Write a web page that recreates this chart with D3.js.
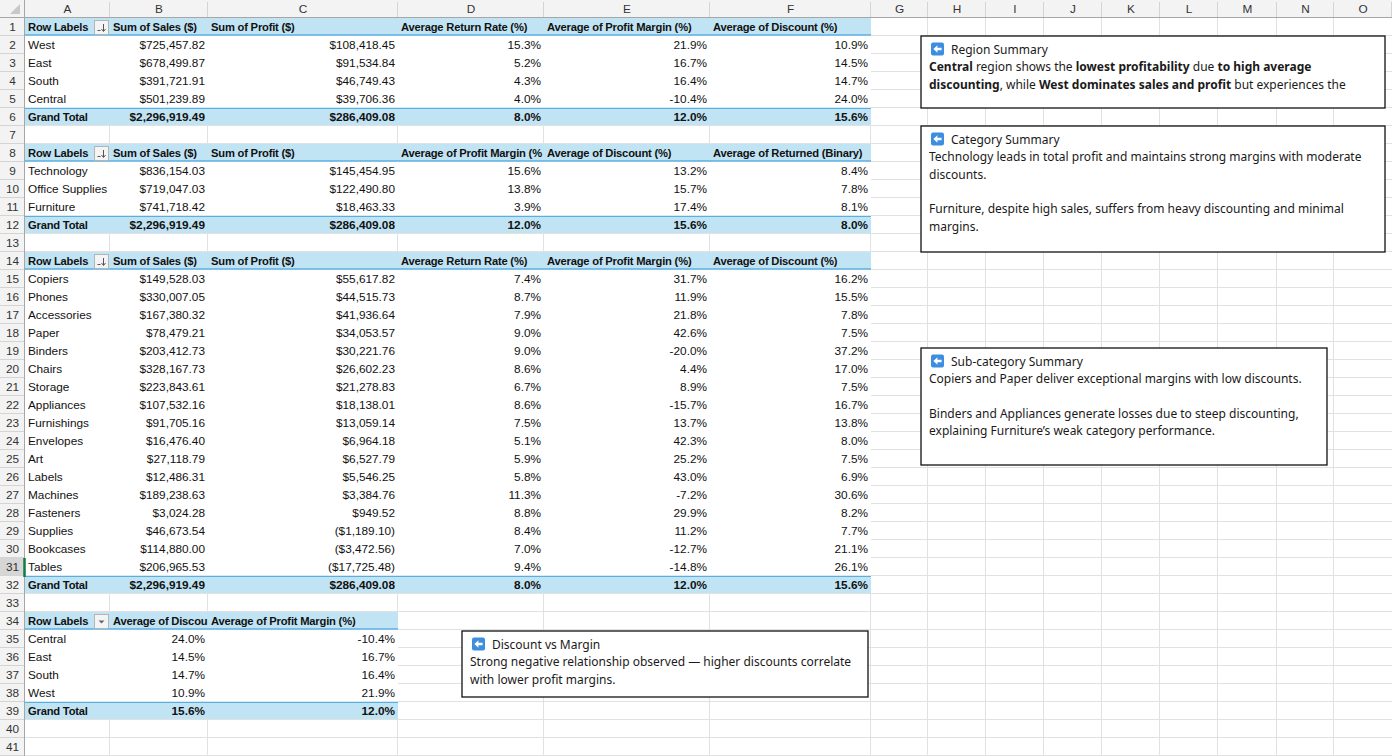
<!DOCTYPE html>
<html>
<head>
<meta charset="utf-8">
<script src="https://cdn.jsdelivr.net/npm/d3@7"></script>
<style>
  body { margin: 0; background: #fff; }
  svg { display: block; }
</style>
</head>
<body>
<svg width="1392" height="756"></svg>
<script>
// ---- pivot 1: by region
const regions = ['West', 'East', 'South', 'Central'];
const regionSales = [725457.82, 678499.87, 391721.91, 501239.89];
const regionProfit = [108418.45, 91534.84, 46749.43, 39706.36];
const regionReturnRate = [15.3, 5.2, 4.3, 4.0];
const regionMargin = [21.9, 16.7, 16.4, -10.4];
const regionDiscount = [10.9, 14.5, 14.7, 24.0];

// ---- pivot 2: by category
const categories = ['Technology', 'Office Supplies', 'Furniture'];
const catSales = [836154.03, 719047.03, 741718.42];
const catProfit = [145454.95, 122490.80, 18463.33];
const catMargin = [15.6, 13.8, 3.9];
const catDiscount = [13.2, 15.7, 17.4];
const catReturned = [8.4, 7.8, 8.1];

// ---- pivot 3: by sub-category
const subCategories = ['Copiers', 'Phones', 'Accessories', 'Paper', 'Binders', 'Chairs', 'Storage', 'Appliances',
  'Furnishings', 'Envelopes', 'Art', 'Labels', 'Machines', 'Fasteners', 'Supplies', 'Bookcases', 'Tables'];
const subSales = [149528.03, 330007.05, 167380.32, 78479.21, 203412.73, 328167.73, 223843.61, 107532.16,
  91705.16, 16476.40, 27118.79, 12486.31, 189238.63, 3024.28, 46673.54, 114880.00, 206965.53];
const subProfit = [55617.82, 44515.73, 41936.64, 34053.57, 30221.76, 26602.23, 21278.83, 18138.01,
  13059.14, 6964.18, 6527.79, 5546.25, 3384.76, 949.52, -1189.10, -3472.56, -17725.48];
const subReturnRate = [7.4, 8.7, 7.9, 9.0, 9.0, 8.6, 6.7, 8.6, 7.5, 5.1, 5.9, 5.8, 11.3, 8.8, 8.4, 7.0, 9.4];
const subMargin = [31.7, 11.9, 21.8, 42.6, -20.0, 4.4, 8.9, -15.7, 13.7, 42.3, 25.2, 43.0, -7.2, 29.9, 11.2, -12.7, -14.8];
const subDiscount = [16.2, 15.5, 7.8, 7.5, 37.2, 17.0, 7.5, 16.7, 13.8, 8.0, 7.5, 6.9, 30.6, 8.2, 7.7, 21.1, 26.1];

// ---- pivot 4: discount vs margin
const dmRegions = ['Central', 'East', 'South', 'West'];
const dmDiscount = [24.0, 14.5, 14.7, 10.9];
const dmMargin = [-10.4, 16.7, 16.4, 21.9];

// grand totals
const totalSales = 2296919.49;
const totalProfit = 286409.08;
const totalReturnRate = 8.0;
const totalMargin = 12.0;
const totalDiscount = 15.6;
const totalReturned = 8.0;

// note boxes text
const noteTitles = ['Region Summary', 'Category Summary', 'Sub-category Summary', 'Discount vs Margin'];
const noteLines = [
  [[['Central', 1], [' region shows the ', 0], ['lowest profitability', 1], [' due ', 0], ['to high average', 1]],
   [['discounting', 1], [', while ', 0], ['West dominates sales and profit', 1], [' but experiences the', 0]]],
  [[['Technology leads in total profit and maintains strong margins with moderate', 0]],
   [['discounts.', 0]], [],
   [['Furniture, despite high sales, suffers from heavy discounting and minimal', 0]],
   [['margins.', 0]]],
  [[['Copiers and Paper deliver exceptional margins with low discounts.', 0]], [],
   [['Binders and Appliances generate losses due to steep discounting,', 0]],
   [['explaining Furniture\u2019s weak category performance.', 0]]],
  [[['Strong negative relationship observed \u2014 higher discounts correlate', 0]],
   [['with lower profit margins.', 0]]]
];

const colLetters = ['A', 'B', 'C', 'D', 'E', 'F', 'G', 'H', 'I', 'J', 'K', 'L', 'M', 'N', 'O'];

// ---- layout
const W = 1392, H = 756;
const rowHeadW = 25, colHeadH = 18, rowH = 18, nRows = 41;
const colEdges = [25, 110, 208, 398, 544, 710, 871, 928, 986, 1044, 1102, 1160, 1218, 1277, 1334, 1392];
const cellFont = "'Liberation Sans', Arial, sans-serif";
const noteFont = "'Noto Sans', 'Open Sans', sans-serif";
const cellSize = 11.8;
const blueFill = '#c1e4f5', blueLine = '#5aaee0', gridColor = '#e1e1e1';

const svg = d3.select('svg');

const yRow = d3.scaleLinear().domain([1, nRows + 1]).range([colHeadH, colHeadH + nRows * rowH]);
const xCol = d3.scaleOrdinal().domain(d3.range(colEdges.length)).range(colEdges);

const loc = d3.formatLocale({ decimal: '.', thousands: ',', grouping: [3], currency: ['$', ''], minus: '-' });
const money = v => {
  const s = loc.format('$,.2f')(Math.abs(v));
  return v < 0 ? `(${s})` : s;
};
const pct = v => loc.format('.1f')(v) + '%';

// excel-like clipping: trim text that does not fit its cell
function fitCell(sel, width) {
  sel.each(function () {
    const node = this;
    let s = node.textContent;
    while (s.length > 1 && node.getComputedTextLength() > width) {
      s = s.slice(0, -1);
      node.textContent = s;
    }
  });
}

// gridlines
const grid = svg.append('g');
grid.selectAll('line.h').data(d3.range(2, nRows + 2)).join('line')
  .attr('x1', rowHeadW).attr('x2', W)
  .attr('y1', d => yRow(d) - 0.5).attr('y2', d => yRow(d) - 0.5)
  .attr('stroke', gridColor);
grid.selectAll('line.v').data(d3.range(1, colEdges.length - 1)).join('line')
  .attr('x1', d => xCol(d) - 0.5).attr('x2', d => xCol(d) - 0.5)
  .attr('y1', colHeadH).attr('y2', H)
  .attr('stroke', gridColor);

// pivot tables
const tables = [
  { row: 1, btn: 'sort', labels: regions,
    headers: ['Row Labels', 'Sum of Sales ($)', 'Sum of Profit ($)', 'Average Return Rate (%)', 'Average of Profit Margin (%)', 'Average of Discount (%)'],
    series: [[regionSales, money], [regionProfit, money], [regionReturnRate, pct], [regionMargin, pct], [regionDiscount, pct]],
    totals: [totalSales, totalProfit, totalReturnRate, totalMargin, totalDiscount] },
  { row: 8, btn: 'sort', labels: categories,
    headers: ['Row Labels', 'Sum of Sales ($)', 'Sum of Profit ($)', 'Average of Profit Margin (%)', 'Average of Discount (%)', 'Average of Returned (Binary)'],
    series: [[catSales, money], [catProfit, money], [catMargin, pct], [catDiscount, pct], [catReturned, pct]],
    totals: [totalSales, totalProfit, totalMargin, totalDiscount, totalReturned] },
  { row: 14, btn: 'sort', labels: subCategories,
    headers: ['Row Labels', 'Sum of Sales ($)', 'Sum of Profit ($)', 'Average Return Rate (%)', 'Average of Profit Margin (%)', 'Average of Discount (%)'],
    series: [[subSales, money], [subProfit, money], [subReturnRate, pct], [subMargin, pct], [subDiscount, pct]],
    totals: [totalSales, totalProfit, totalReturnRate, totalMargin, totalDiscount] },
  { row: 34, btn: 'drop', labels: dmRegions,
    headers: ['Row Labels', 'Average of Discount (%)', 'Average of Profit Margin (%)'],
    series: [[dmDiscount, pct], [dmMargin, pct]],
    totals: [totalDiscount, totalMargin] }
];

tables.forEach(t => {
  const g = svg.append('g');
  const nCols = t.headers.length;
  const x0 = xCol(0), x1 = xCol(nCols);
  const rHead = t.row, rTot = t.row + t.labels.length + 1;

  // white body, blue header and total rows
  g.append('rect').attr('x', x0).attr('y', yRow(rHead)).attr('width', x1 - x0)
    .attr('height', yRow(rTot + 1) - yRow(rHead) - 1).attr('fill', '#fff');
  [rHead, rTot].forEach(r => {
    g.append('rect').attr('x', x0).attr('y', yRow(r)).attr('width', x1 - x0)
      .attr('height', rowH - 1).attr('fill', blueFill);
  });
  g.append('line').attr('x1', x0).attr('x2', x1)
    .attr('y1', yRow(rHead + 1) - 1).attr('y2', yRow(rHead + 1) - 1)
    .attr('stroke', blueLine).attr('stroke-width', 1.3);
  g.append('line').attr('x1', x0).attr('x2', x1)
    .attr('y1', yRow(rTot) + 0.3).attr('y2', yRow(rTot) + 0.3)
    .attr('stroke', blueLine).attr('stroke-width', 1.3);

  // headers, trimmed to their cell like Excel does
  t.headers.forEach((h, i) => {
    const cw = xCol(i + 1) - xCol(i) - (i === 0 ? 20 : 3);
    g.append('text')
      .attr('x', xCol(i) + 3).attr('y', yRow(rHead) + 13)
      .attr('font-family', cellFont).attr('font-size', 11.2).attr('font-weight', 'bold')
      .attr('letter-spacing', -0.2).attr('fill', '#111').text(h)
      .call(fitCell, cw);
  });

  // header button
  const bx = xCol(1) - 16, by = yRow(rHead) + 2;
  g.append('rect').attr('x', bx + 0.5).attr('y', by + 0.5).attr('width', 14).attr('height', 14)
    .attr('fill', '#f4f4f4').attr('stroke', '#b5b5b5');
  if (t.btn === 'sort') {
    g.append('path').attr('d', `M${bx + 3.5},${by + 10.5}h3 M${bx + 9.5},${by + 4}v7 M${bx + 7.5},${by + 9}l2,2.5l2,-2.5`)
      .attr('stroke', '#555').attr('fill', 'none').attr('stroke-width', 1);
  } else {
    g.append('path').attr('d', `M${bx + 4.5},${by + 6.5}h6l-3,3z`).attr('fill', '#666');
  }

  // row labels
  g.selectAll('text.lab').data(t.labels).join('text')
    .attr('x', xCol(0) + 3).attr('y', (d, i) => yRow(rHead + 1 + i) + 13)
    .attr('font-family', cellFont).attr('font-size', cellSize).attr('fill', '#111').text(d => d);

  // values
  t.series.forEach(([vals, fmt], j) => {
    g.selectAll(null).data(vals).join('text')
      .attr('x', xCol(j + 2) - 3).attr('y', (d, i) => yRow(rHead + 1 + i) + 13)
      .attr('text-anchor', 'end')
      .attr('font-family', cellFont).attr('font-size', cellSize).attr('fill', '#111').text(fmt);
  });

  // grand total row
  g.append('text').attr('x', xCol(0) + 3).attr('y', yRow(rTot) + 13)
    .attr('font-family', cellFont).attr('font-size', 11.2).attr('font-weight', 'bold')
    .attr('letter-spacing', -0.2).attr('fill', '#111').text('Grand Total');
  g.selectAll(null).data(t.totals).join('text')
    .attr('x', (d, j) => xCol(j + 2) - 3).attr('y', yRow(rTot) + 13)
    .attr('text-anchor', 'end').attr('font-family', cellFont).attr('font-size', cellSize)
    .attr('font-weight', 'bold').attr('fill', '#111')
    .text((d, j) => t.series[j][1](d));
});

// ---- headers (row numbers, column letters)
const heads = svg.append('g');
heads.append('rect').attr('x', 0).attr('y', 0).attr('width', W).attr('height', colHeadH).attr('fill', '#f3f3f3');
heads.append('rect').attr('x', 0).attr('y', 0).attr('width', rowHeadW).attr('height', H).attr('fill', '#f3f3f3');
heads.append('rect').attr('x', 0).attr('y', yRow(31)).attr('width', rowHeadW).attr('height', rowH).attr('fill', '#d6d6d6');

heads.selectAll('line.cs').data(d3.range(1, colEdges.length)).join('line')
  .attr('x1', d => xCol(d) - 0.5).attr('x2', d => xCol(d) - 0.5).attr('y1', 2).attr('y2', colHeadH)
  .attr('stroke', '#d4d4d4');
heads.selectAll('line.rs').data(d3.range(2, nRows + 2)).join('line')
  .attr('x1', 0).attr('x2', rowHeadW).attr('y1', d => yRow(d) - 0.5).attr('y2', d => yRow(d) - 0.5)
  .attr('stroke', '#d4d4d4');
heads.append('line').attr('x1', 0).attr('x2', W).attr('y1', colHeadH - 0.5).attr('y2', colHeadH - 0.5).attr('stroke', '#a6a6a6');
heads.append('line').attr('x1', rowHeadW - 0.5).attr('x2', rowHeadW - 0.5).attr('y1', 0).attr('y2', H).attr('stroke', '#a6a6a6');
heads.append('line').attr('x1', rowHeadW - 0.5).attr('x2', rowHeadW - 0.5)
  .attr('y1', yRow(31)).attr('y2', yRow(32) + 1).attr('stroke', '#107c41').attr('stroke-width', 2.5);
heads.append('path').attr('d', 'M20,4 L20,14 L10,14 Z').attr('fill', '#c8c8c8');

heads.selectAll('text.col').data(colLetters).join('text')
  .attr('x', (d, i) => (xCol(i) + xCol(i + 1)) / 2).attr('y', 13)
  .attr('text-anchor', 'middle').attr('font-family', cellFont).attr('font-size', 11.8)
  .attr('fill', '#333').text(d => d);
heads.selectAll('text.row').data(d3.range(1, nRows + 1)).join('text')
  .attr('x', rowHeadW / 2).attr('y', d => yRow(d) + 13)
  .attr('text-anchor', 'middle').attr('font-family', cellFont).attr('font-size', 11.8)
  .attr('fill', '#333').text(d => d);

// ---- note boxes
const noteBoxes = [
  { x: 921, y: 36, w: 464, h: 72 },
  { x: 921, y: 126, w: 464, h: 126 },
  { x: 921, y: 348, w: 406, h: 117 },
  { x: 462, y: 631, w: 406, h: 66 }
];
const lineGap = 17.3;

noteBoxes.forEach((b, k) => {
  const g = svg.append('g');
  g.append('rect').attr('x', b.x).attr('y', b.y).attr('width', b.w).attr('height', b.h)
    .attr('fill', '#fff').attr('stroke', '#111').attr('stroke-width', 1.3);
  const base = b.y + 18;
  // arrow icon
  const ix = b.x + 10, iy = base - 11.5;
  g.append('rect').attr('x', ix).attr('y', iy).attr('width', 13).attr('height', 13).attr('rx', 2)
    .attr('fill', '#3d8ee0');
  g.append('path').attr('d', `M${ix + 2.4},${iy + 6.5} L${ix + 6.4},${iy + 2.8} V${iy + 5.3} H${ix + 10.6} V${iy + 7.7} H${ix + 6.4} V${iy + 10.2} Z`)
    .attr('fill', '#fff');
  g.append('text').attr('x', b.x + 30).attr('y', base)
    .attr('font-family', noteFont).attr('font-size', 12).attr('fill', '#1a1a1a').text(noteTitles[k]);
  noteLines[k].forEach((segs, li) => {
    const tx = g.append('text').attr('x', b.x + 8).attr('y', base + lineGap * (li + 1))
      .attr('font-family', noteFont).attr('font-size', 12).attr('fill', '#1a1a1a');
    segs.forEach(([s, bold]) => {
      tx.append('tspan').attr('font-weight', bold ? 'bold' : 'normal').text(s);
    });
  });
});
</script>
</body>
</html>
